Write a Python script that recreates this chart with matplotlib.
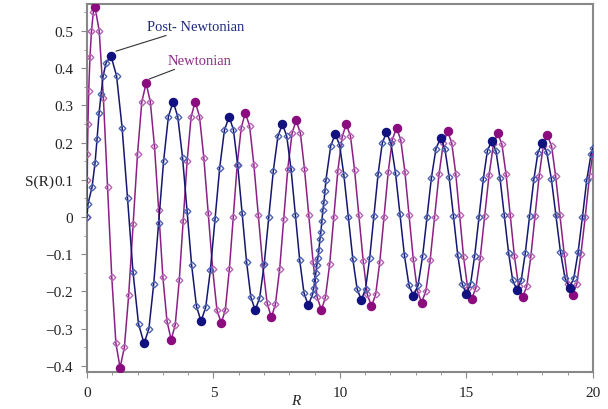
import numpy as np
import matplotlib
matplotlib.use('Agg')
import matplotlib.pyplot as plt

# Newtonian curve, values
newt_R = [0.00, 0.01, 0.02, 0.04, 0.07, 0.12, 0.18, 0.25, 0.32,
          0.485, 0.65, 0.815, 0.98, 1.145, 1.31,
          1.48, 1.65, 1.825, 2.00, 2.17, 2.34,
          2.505, 2.67, 2.835, 3.00, 3.165, 3.33,
          3.49, 3.65, 3.805, 3.96, 4.12, 4.28,
          4.45, 4.62, 4.795, 4.97, 5.14, 5.31,
          5.47, 5.63, 5.785, 5.94, 6.10, 6.26,
          6.43, 6.60, 6.775, 6.95, 7.12, 7.29,
          7.45, 7.62, 7.78, 7.94, 8.11, 8.27,
          8.44, 8.60, 8.77, 8.94, 9.10, 9.27,
          9.43, 9.60, 9.76, 9.92, 10.09, 10.25,
          10.42, 10.58, 10.75, 10.92, 11.08, 11.25,
          11.415, 11.58, 11.745, 11.91, 12.075, 12.24,
          12.405, 12.57, 12.735, 12.90, 13.065, 13.23,
          13.40, 13.57, 13.745, 13.92, 14.09, 14.26,
          14.42, 14.58, 14.735, 14.89, 15.05, 15.21,
          15.38, 15.55, 15.725, 15.90, 16.07, 16.24,
          16.405, 16.57, 16.735, 16.90, 17.065, 17.23,
          17.39, 17.55, 17.715, 17.88, 18.04, 18.20,
          18.37, 18.53, 18.70, 18.87, 19.03, 19.20,
          19.37, 19.53, 19.70, 19.87, 20.00]
newt_S = [0.00, 0.10, 0.17, 0.25, 0.34, 0.43, 0.50, 0.55, 0.565,
          0.50, 0.32, 0.08, -0.16, -0.34, -0.405,
          -0.35, -0.21, -0.02, 0.17, 0.31, 0.36,
          0.31, 0.19, 0.02, -0.16, -0.28, -0.33,
          -0.29, -0.17, -0.01, 0.15, 0.27, 0.31,
          0.27, 0.16, 0.01, -0.14, -0.25, -0.285,
          -0.25, -0.14, 0.00, 0.14, 0.24, 0.28,
          0.245, 0.14, 0.005, -0.13, -0.23, -0.27,
          -0.235, -0.14, -0.005, 0.13, 0.225, 0.26,
          0.225, 0.13, 0.005, -0.12, -0.215, -0.25,
          -0.215, -0.125, 0.0, 0.125, 0.215, 0.25,
          0.217, 0.127, 0.005, -0.117, -0.207, -0.24,
          -0.208, -0.12, 0.0, 0.12, 0.208, 0.24,
          0.208, 0.122, 0.005, -0.112, -0.198, -0.23,
          -0.199, -0.115, 0.0, 0.115, 0.199, 0.23,
          0.20, 0.117, 0.005, -0.107, -0.19, -0.22,
          -0.19, -0.109, 0.0025, 0.114, 0.195, 0.225,
          0.196, 0.115, 0.005, -0.105, -0.186, -0.215,
          -0.186, -0.106, 0.0025, 0.111, 0.191, 0.22,
          0.191, 0.11, 0.005, -0.10, -0.181, -0.21,
          -0.18, -0.10, 0.0, 0.11, 0.17]

# Post-Newtonian curve
post_R = [0.00, 0.04, 0.20, 0.32, 0.40, 0.48, 0.56, 0.64, 0.76, 0.95,
          1.17, 1.39, 1.605, 1.82, 2.04, 2.26,
          2.45, 2.64, 2.835, 3.03, 3.22, 3.41,
          3.59, 3.78, 3.96, 4.14, 4.33, 4.51,
          4.695, 4.88, 5.065, 5.25, 5.435, 5.62,
          5.79, 5.96, 6.135, 6.31, 6.48, 6.65,
          6.83, 7.01, 7.19, 7.37, 7.55, 7.73,
          7.90, 8.07, 8.24, 8.41, 8.58, 8.75,
          8.93, 8.97, 9.01, 9.05, 9.09, 9.13, 9.17, 9.21, 9.25, 9.29, 9.33,
          9.37, 9.41, 9.45, 9.64, 9.82,
          9.99, 10.16, 10.335, 10.51, 10.68, 10.85,
          11.015, 11.18, 11.345, 11.51, 11.675, 11.84,
          12.02, 12.20, 12.375, 12.55, 12.73, 12.91,
          13.09, 13.27, 13.445, 13.62, 13.80, 13.98,
          14.15, 14.32, 14.49, 14.66, 14.83, 15.00,
          15.17, 15.33, 15.50, 15.67, 15.83, 16.00,
          16.17, 16.33, 16.50, 16.67, 16.83, 17.00,
          17.17, 17.33, 17.50, 17.67, 17.83, 18.00,
          18.18, 18.36, 18.54, 18.72, 18.90, 19.08,
          19.25, 19.42, 19.59, 19.76, 19.93, 20.00]
post_S = [0.00, 0.035, 0.08, 0.145, 0.21, 0.28, 0.33, 0.38, 0.415, 0.433,
          0.38, 0.24, 0.05, -0.147, -0.288, -0.34,
          -0.30, -0.18, -0.015, 0.15, 0.27, 0.31,
          0.27, 0.16, 0.015, -0.13, -0.24, -0.28,
          -0.243, -0.143, -0.005, 0.133, 0.233, 0.27,
          0.235, 0.14, 0.01, -0.12, -0.215, -0.25,
          -0.217, -0.125, 0.0, 0.125, 0.217, 0.25,
          0.217, 0.128, 0.0065, -0.115, -0.204, -0.237,
          -0.206, -0.19, -0.17, -0.15, -0.13, -0.11, -0.09, -0.06, -0.04, -0.01, 0.02,
          0.04, 0.07, 0.10, 0.192, 0.223,
          0.193, 0.112, 0.0, -0.112, -0.193, -0.223,
          -0.193, -0.11, 0.0025, 0.115, 0.198, 0.228,
          0.198, 0.118, 0.008, -0.102, -0.183, -0.212,
          -0.184, -0.106, 0.0, 0.106, 0.184, 0.212,
          0.184, 0.107, 0.0025, -0.102, -0.179, -0.207,
          -0.179, -0.104, -0.001, 0.102, 0.177, 0.205,
          0.178, 0.105, 0.0045, -0.096, -0.169, -0.196,
          -0.17, -0.097, 0.002, 0.101, 0.173, 0.20,
          0.174, 0.103, 0.005, -0.093, -0.164, -0.19,
          -0.164, -0.094, 0.0, 0.099, 0.169, 0.185]

serif = ['Liberation Serif', 'DejaVu Serif']

fig = plt.figure(figsize=(6.08, 4.10), dpi=100)
ax = fig.add_axes([0.143, 0.090, 0.832, 0.898])


def draw(R, S, line_col, mark_col, blob_col):
    R = np.array(R)
    S = np.array(S)
    ax.plot(R, S, color=line_col, lw=1.1, marker='D', ms=3.4, mfc='none',
            mec=mark_col, mew=1.0, zorder=3)
    # local extrema get the filled blob
    i = np.arange(1, len(S) - 1)
    ext = i[((S[i] > S[i - 1]) & (S[i] > S[i + 1])) | ((S[i] < S[i - 1]) & (S[i] < S[i + 1]))]
    ax.plot(R[ext], S[ext], 'o', color=blob_col, ms=5.8, zorder=4)


draw(newt_R, newt_S, '#8a1f86', '#b563b3', '#8a0c7e')
draw(post_R, post_S, '#15166e', '#4d62b0', '#111180')

ax.set_xlim(0, 20)
ax.set_ylim(-0.417, 0.573)
ax.set_xticks([0, 5, 10, 15, 20])
ax.set_xticks(np.arange(0, 21, 1), minor=True)
ax.set_yticks(np.round(np.arange(-0.4, 0.51, 0.1), 1))
ax.set_yticks(np.arange(-0.4, 0.56, 0.05), minor=True)
ax.set_yticklabels(['\u22120.4', '\u22120.3', '\u22120.2', '\u22120.1', '0',
                    '0.1', '0.2', '0.3', '0.4', '0.5'])
ax.set_xticklabels(['0', '5', '10', '15', '20'])
for lab in ax.get_xticklabels() + ax.get_yticklabels():
    lab.set_family(serif)
    lab.set_fontsize(11)
    lab.set_color('#222222')
ax.tick_params(which='major', length=4, color='#888888', pad=6)
ax.tick_params(which='minor', length=2, color='#888888')
for sp in ax.spines.values():
    sp.set_color('#888888')
    sp.set_linewidth(1.5)

ax.annotate('Post- Newtonian', xy=(1.15, 0.446), xytext=(2.38, 0.513),
            color='#1f2a80', fontsize=10.5, family=serif, va='center', ha='left',
            arrowprops=dict(arrowstyle='-', color='#333333', lw=0.8,
                            shrinkA=0, shrinkB=0))
ax.annotate('Newtonian', xy=(2.46, 0.371), xytext=(3.17, 0.422),
            color='#8e2c8a', fontsize=10.5, family=serif, va='center', ha='left',
            arrowprops=dict(arrowstyle='-', color='#333333', lw=0.8,
                            shrinkA=0, shrinkB=0))

fig.text(40 / 608, 1 - 182 / 410, 'S(R)', family=serif, fontsize=11,
         ha='center', va='center', color='#222222')
fig.text(296 / 608, 1 - 402 / 410, 'R', family=serif, style='italic', fontsize=11,
         ha='center', va='center', color='#222222')

fig.savefig('out.png', dpi=100)
